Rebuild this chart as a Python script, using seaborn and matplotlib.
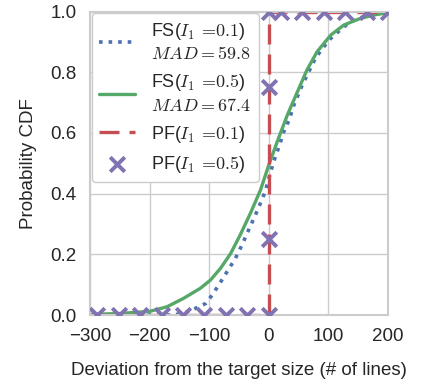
import numpy as np
import matplotlib
matplotlib.use("Agg")
import matplotlib.pyplot as plt
import seaborn as sns

# values
fs01_x = [-300, -160, -140, -123, -106, -95, -84, -70, -56, -45, -34, -20, -6,
          0, 8, 17, 25, 34, 42, 56, 67, 78, 90, 104, 120, 137, 160, 188, 200]
fs01_y = [0.0, 0.0, 0.008, 0.022, 0.038, 0.066, 0.099, 0.143, 0.187, 0.231,
          0.28, 0.341, 0.407, 0.451, 0.505, 0.555, 0.604, 0.643, 0.692, 0.758,
          0.802, 0.846, 0.879, 0.912, 0.94, 0.967, 0.984, 0.995, 0.997]

fs05_x = [-300, -250, -200, -171, -143, -115, -98, -81, -64, -48, -31, -14, 0,
          14, 31, 48, 64, 81, 104, 126, 154, 182, 200]
fs05_y = [0.002, 0.005, 0.012, 0.027, 0.055, 0.088, 0.115, 0.154, 0.203, 0.264,
          0.335, 0.412, 0.495, 0.571, 0.659, 0.736, 0.808, 0.868, 0.923, 0.956,
          0.978, 0.991, 0.996]

pf01_x = [-300, 0, 0, 200]
pf01_y = [0.0, 0.0, 1.0, 1.0]

pf05_x = [-288, -252, -216, -180, -144, -108, -72, -36, 0, 0, 0, 0,
          20, 56, 92, 128, 164, 200]
pf05_y = [0, 0, 0, 0, 0, 0, 0, 0, 0, 0.25, 0.75, 1,
          1, 1, 1, 1, 1, 1]

labels = [r"FS($I_1\,=\!0.1$)" + "\n" + r"$MAD=59.8$",
          r"FS($I_1\,=\!0.5$)" + "\n" + r"$MAD=67.4$",
          r"PF($I_1\,=\!0.1$)",
          r"PF($I_1\,=\!0.5$)"]

sns.set_theme(style="whitegrid")
plt.rcParams["font.family"] = ["Liberation Sans", "DejaVu Sans"]
plt.rcParams["mathtext.fontset"] = "cm"
plt.rcParams.update({"font.size": 13.5, "axes.labelsize": 13.5,
                     "xtick.labelsize": 13.5, "ytick.labelsize": 13.5,
                     "legend.fontsize": 13})

blue, green, red, purple = "#4C72B0", "#55A868", "#C44E52", "#8172B2"

fig = plt.figure(figsize=(4.39, 3.87), dpi=100)
ax = fig.add_axes([0.205, 0.186, 0.679, 0.784])

sns.lineplot(x=fs01_x, y=fs01_y, ax=ax, color=blue, linestyle=":", linewidth=2.6,
             estimator=None, sort=False, label=labels[0])
sns.lineplot(x=fs05_x, y=fs05_y, ax=ax, color=green, linewidth=2.4,
             estimator=None, sort=False, label=labels[1])
sns.lineplot(x=pf01_x, y=pf01_y, ax=ax, color=red, linewidth=2.4,
             estimator=None, sort=False, label=labels[2], dashes=False)
ax.lines[-1].set_dashes([6, 3])
sns.scatterplot(x=pf05_x, y=pf05_y, ax=ax, color=purple, marker="x", s=110,
                linewidth=2.8, label=labels[3], zorder=5, clip_on=True)

ax.set_xlim(-300, 200)
ax.set_ylim(0, 1)
ax.set_xticks([-300, -200, -100, 0, 100, 200])
ax.set_yticks([0, 0.2, 0.4, 0.6, 0.8, 1.0])
ax.set_xlabel("Deviation from the target size (# of lines)", labelpad=12)
ax.set_ylabel("Probability CDF", labelpad=10)
for s in ax.spines.values():
    s.set_linewidth(1.5)

leg = ax.legend(loc="upper left", borderaxespad=0.1, handlelength=2.0,
                handletextpad=0.9, labelspacing=0.5, frameon=True,
                facecolor="white", framealpha=1)
for t in leg.get_texts():
    t.set_linespacing(1.35)

plt.savefig("out.png", dpi=100)
